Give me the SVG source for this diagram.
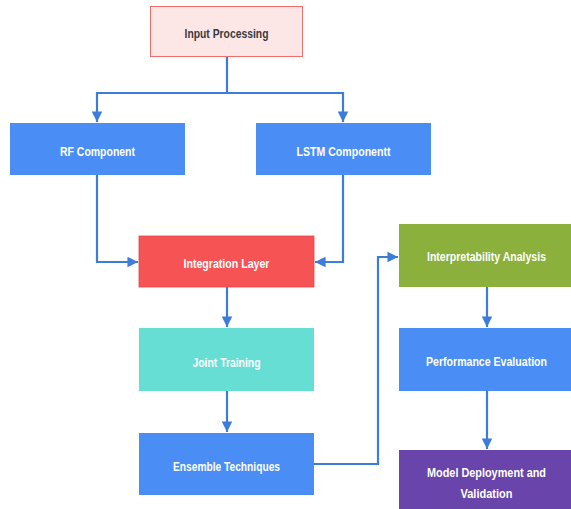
<svg xmlns="http://www.w3.org/2000/svg" width="571" height="509" viewBox="0 0 571 509">
<style>
.t{font-family:"Liberation Sans",Arial,sans-serif;font-weight:bold;font-size:13.5px;text-anchor:middle;dominant-baseline:central;fill:#fff}
.r{font-size:12.5px}
.c{fill:none;stroke:#3c7ddb;stroke-width:2.2}
</style>
<defs>
<marker id="a" viewBox="0 0 10 10" refX="10" refY="5" markerWidth="4.8" markerHeight="5" orient="auto" markerUnits="strokeWidth">
<path d="M0,0 L10,5 L0,10 z" fill="#3c7ddb"/>
</marker>
</defs>
<rect width="571" height="509" fill="#fff"/>
<g id="connectors">
<path class="c" d="M227,57 V93 H97 V122" marker-end="url(#a)"/>
<path class="c" d="M227,93 H343 V122" marker-end="url(#a)"/>
<path class="c" d="M97,175 V262 H138" marker-end="url(#a)"/>
<path class="c" d="M343,175 V262 H315" marker-end="url(#a)"/>
<path class="c" d="M227,287 V327" marker-end="url(#a)"/>
<path class="c" d="M227,391 V432" marker-end="url(#a)"/>
<path class="c" d="M314,464 H378 V257 H398" marker-end="url(#a)"/>
<path class="c" d="M487,287 V327" marker-end="url(#a)"/>
<path class="c" d="M487,391 V449" marker-end="url(#a)"/>
</g>
<g id="input">
<rect x="150.5" y="6.5" width="152" height="50" fill="#fde6e6" stroke="#f36d6d" stroke-width="1"/>
<text class="t" x="226.5" y="33" style="fill:#3a3a3a" textLength="84" lengthAdjust="spacingAndGlyphs">Input Processing</text>
</g>
<g id="rf">
<rect x="10" y="123" width="175" height="52" fill="#4a8ef5"/>
<text class="t" x="97.5" y="151" textLength="75" lengthAdjust="spacingAndGlyphs">RF Component</text>
</g>
<g id="lstm">
<rect x="256" y="123" width="175" height="52" fill="#4a8ef5"/>
<text class="t" x="343.5" y="151" textLength="94" lengthAdjust="spacingAndGlyphs">LSTM Componentt</text>
</g>
<g id="integration">
<rect x="139" y="236" width="175" height="51" fill="#f55354" stroke="#e04848" stroke-width="0.8"/>
<text class="t" x="226.5" y="263" textLength="86" lengthAdjust="spacingAndGlyphs">Integration Layer</text>
</g>
<g id="joint">
<rect x="139" y="328" width="175" height="63" fill="#66ded4"/>
<text class="t" x="226.5" y="362" textLength="68" lengthAdjust="spacingAndGlyphs">Joint Training</text>
</g>
<g id="ensemble">
<rect x="139" y="433" width="175" height="62" fill="#4a8ef5"/>
<text class="t" x="226.5" y="466" textLength="107" lengthAdjust="spacingAndGlyphs">Ensemble Techniques</text>
</g>
<g id="interp">
<rect x="399" y="224" width="172" height="63" fill="#8bb03b"/>
<text class="t r" x="486.5" y="257" textLength="119" lengthAdjust="spacingAndGlyphs">Interpretability Analysis</text>
</g>
<g id="perf">
<rect x="399" y="328" width="172" height="63" fill="#4a8ef5"/>
<text class="t r" x="486.5" y="362" textLength="121" lengthAdjust="spacingAndGlyphs">Performance Evaluation</text>
</g>
<g id="deploy">
<rect x="399" y="450" width="172" height="59" fill="#6944aa"/>
<text class="t r" x="486.5" y="473" textLength="119" lengthAdjust="spacingAndGlyphs">Model Deployment and</text>
<text class="t r" x="486.5" y="494" textLength="52" lengthAdjust="spacingAndGlyphs">Validation</text>
</g>
</svg>
